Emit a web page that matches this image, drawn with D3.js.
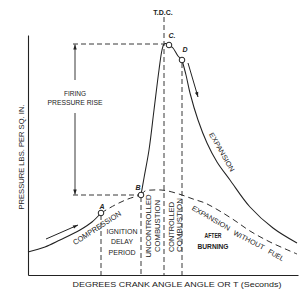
<!DOCTYPE html>
<html><head><meta charset="utf-8">
<script src="https://cdn.jsdelivr.net/npm/d3@7"></script>
<style>
html,body{margin:0;padding:0;background:#fff;}
text{font-family:"Liberation Sans",Arial,sans-serif;fill:#222;}
</style></head>
<body>
<svg id="c" width="302" height="290"></svg>
<script>
// crank angle (deg from TDC) and pressure (arbitrary units)
const compressionX = [-136,-119,-104,-84,-72,-63];
const compressionP = [23,28,35,45,53,62];
const delayX = [-63,-49,-36,-23];
const delayP = [62,70,76,80];
const combustionX = [-23,-20,-15,-10,-5,-2,0,2,5,9,14,18];
const combustionP = [80,97,125,165,205,225,231,231.5,230,227,219,215];
const expansionX = [18,22,26,34,43,53,66,86,109,133];
const expansionP = [215,200,182,155,132,113,95,68,47,32];
const noFuelX = [-23,-19,-11,-3,4,18,29,41,54,70,86,106,133];
const noFuelP = [80,84,85,85,84,80,76,72,65,55,44,33,21];
const points = [{k:"A",x:-63,p:62},{k:"B",x:-23,p:80},{k:"C.",x:5,p:230},{k:"D",x:18,p:215}];
const periodNames = ["IGNITION","DELAY","PERIOD"];
const xTitle = "DEGREES CRANK ANGLE ANGLE OR T (Seconds)";
const yTitle = "PRESSURE LBS. PER SQ. IN.";

const svg = d3.select("#c");
const x = d3.scaleLinear().domain([-136,134]).range([28,298]);
const y = d3.scaleLinear().domain([0,240]).range([275,35]);
const zip = (xs,ps)=>xs.map((v,i)=>[v,ps[i]]);
const line = d3.line().x(d=>x(d[0])).y(d=>y(d[1])).curve(d3.curveCatmullRom.alpha(0.5));

// markers
const defs = svg.append("defs");
defs.append("marker").attr("id","ah").attr("viewBox","0 0 10 10").attr("refX",10).attr("refY",5)
  .attr("markerWidth",7).attr("markerHeight",5).attr("orient","auto-start-reverse").attr("markerUnits","userSpaceOnUse")
  .append("path").attr("d","M0,1.5 L10,5 L0,8.5 Z").attr("fill","#222");

// axes
svg.append("g").attr("transform",`translate(${x(-136)},0)`)
  .call(d3.axisLeft(y).tickValues([]).tickSizeOuter(0))
  .select(".domain").attr("stroke","#222").attr("stroke-width",1.1);
svg.append("g").attr("transform",`translate(0,${y(0)})`)
  .call(d3.axisBottom(x).tickValues([]).tickSizeOuter(0))
  .select(".domain").attr("stroke","#222").attr("stroke-width",1.1);

const dash = "5,3";
// vertical guides
const vguides = [{x:-63,p:60},{x:-23,p:78},{x:0,p:258},{x:18,p:212}];
vguides.forEach(g=>{
  svg.append("line").attr("x1",x(g.x)).attr("x2",x(g.x)).attr("y1",y(g.p)).attr("y2",y(0))
    .attr("stroke","#222").attr("stroke-width",0.9).attr("stroke-dasharray",dash);
});
// horizontal guides
svg.append("line").attr("x1",x(-91)).attr("x2",x(-1)).attr("y1",y(231)).attr("y2",y(231))
  .attr("stroke","#222").attr("stroke-width",0.9).attr("stroke-dasharray",dash);
svg.append("line").attr("x1",x(-91)).attr("x2",x(-26)).attr("y1",y(80)).attr("y2",y(80))
  .attr("stroke","#222").attr("stroke-width",0.9).attr("stroke-dasharray",dash);

// firing pressure rise arrows
svg.append("line").attr("x1",x(-89)).attr("x2",x(-89)).attr("y1",y(195)).attr("y2",y(230.5))
  .attr("stroke","#222").attr("stroke-width",0.9).attr("marker-end","url(#ah)");
svg.append("line").attr("x1",x(-89)).attr("x2",x(-89)).attr("y1",y(162)).attr("y2",y(80.5))
  .attr("stroke","#222").attr("stroke-width",0.9).attr("marker-end","url(#ah)");

// curves
const solid = (d)=>svg.append("path").attr("d",line(d)).attr("fill","none").attr("stroke","#222").attr("stroke-width",1.05);
const dashed = (d)=>svg.append("path").attr("d",line(d)).attr("fill","none").attr("stroke","#222").attr("stroke-width",0.95).attr("stroke-dasharray","6,4");
solid(zip(compressionX,compressionP));
dashed(zip(delayX,delayP));
solid(zip(combustionX,combustionP));
solid(zip(expansionX,expansionP));
dashed(zip(noFuelX,noFuelP));

// direction arrows
svg.append("line").attr("x1",x(-118)).attr("y1",y(36)).attr("x2",x(-86)).attr("y2",y(50))
  .attr("stroke","#222").attr("stroke-width",1).attr("marker-end","url(#ah)");
svg.append("line").attr("x1",x(24)).attr("y1",y(212)).attr("x2",x(34)).attr("y2",y(178))
  .attr("stroke","#222").attr("stroke-width",1).attr("marker-end","url(#ah)");

// points
svg.selectAll("circle.pt").data(points).join("circle").attr("class","pt")
  .attr("cx",d=>x(d.x)).attr("cy",d=>y(d.p)).attr("r",2.8)
  .attr("fill","#fff").attr("stroke","#222").attr("stroke-width",1);
const lblOff = {"A":[1,-4],"B":[-3,-5],"C.":[3,-7],"D":[3,-8]};
svg.selectAll("text.pl").data(points).join("text").attr("class","pl")
  .attr("x",d=>x(d.x)+lblOff[d.k][0]).attr("y",d=>y(d.p)+lblOff[d.k][1])
  .attr("font-size",7).attr("font-weight","bold").attr("text-anchor","middle").attr("font-style","italic").text(d=>d.k);

// texts
const t = (tx,ty,str,o={})=>{
  const el = svg.append("text").attr("x",0).attr("y",0).attr("text-anchor","middle")
    .attr("font-size",o.fs||7.5).attr("transform",`translate(${tx},${ty}) rotate(${o.rot||0})`)
    .attr("dominant-baseline","central").text(str);
  if(o.bold) el.attr("font-weight","bold");
  if(o.len) el.attr("textLength",o.len).attr("lengthAdjust","spacingAndGlyphs");
  return el;
};
t(x(-1),12,"T.D.C.",{fs:7,bold:true});
t(75,93,"FIRING",{fs:7.5,len:22});
t(75,102,"PRESSURE RISE",{fs:7.5,len:55});
t(21,157,yTitle,{fs:7.5,rot:-90,len:105});
t(177,284,xTitle,{fs:8,len:209});
periodNames.forEach((n,i)=>t(122,231+i*10.5,n,{fs:8,len:[31,22,27][i]}));
t(97,228,"COMPRESSION",{fs:7.5,rot:-33,len:56});
t(148,226,"UNCONTROLLED",{fs:8,rot:-90,len:63});
t(157,226,"COMBUSTION",{fs:8,rot:-90,len:52});
t(171,227,"CONTROLLED",{fs:8,rot:-90,len:50});
t(179,225,"COMBUSTION",{fs:8,rot:-90,len:54});
t(222,152,"EXPANSION",{fs:7,rot:60,len:44});
t(211,218,"EXPANSION",{fs:7,rot:30,len:43});
t(249,240,"WITHOUT",{fs:7,rot:27,len:34});
t(276,255,"FUEL",{fs:7,rot:30,len:17});
t(213,235,"AFTER",{fs:7,bold:true,len:17});
t(213,246,"BURNING",{fs:7,bold:true,len:31});
</script>
</body></html>
